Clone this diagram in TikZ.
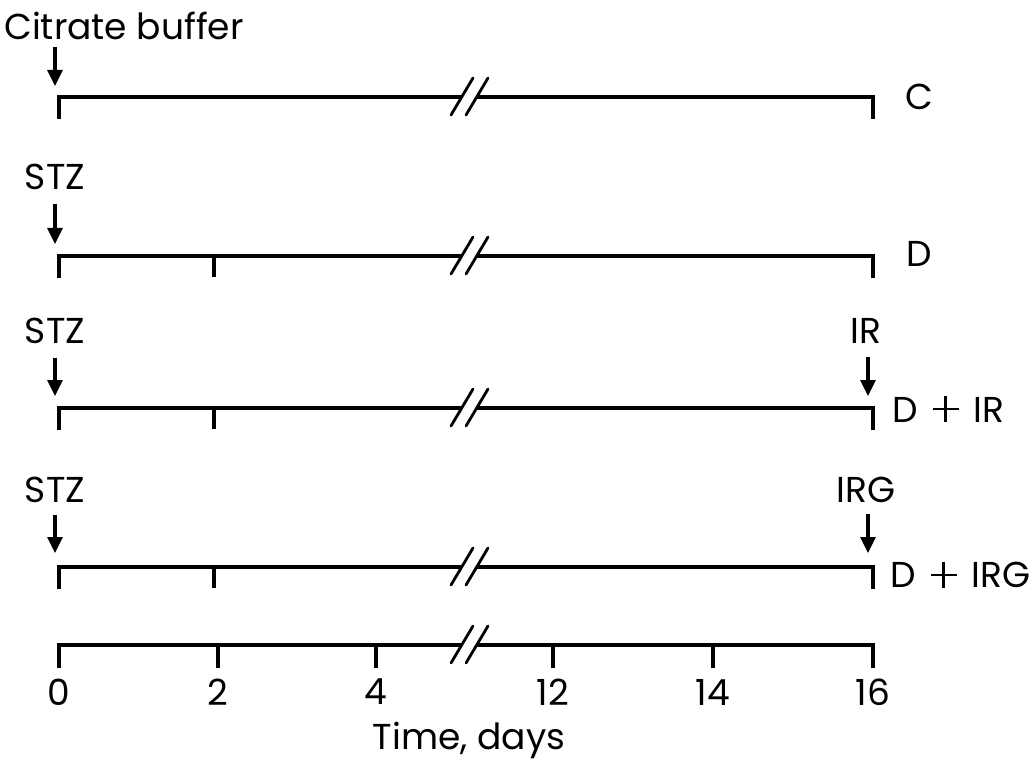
\documentclass[tikz,border=0pt]{standalone}
\usepackage{fontspec}
\setmainfont{Poppins}
\usetikzlibrary{arrows.meta,positioning}
\newcommand\bplus{\kern5pt\rlap{\raisebox{11.7pt}{\rule{26pt}{2.6pt}}}\kern11.7pt\rule{2.6pt}{26pt}\kern11.7pt\kern5pt}

\begin{document}
\begin{tikzpicture}[x=1pt,y=-1pt,line width=3.4pt,
  every node/.style={font=\fontsize{36}{40}\selectfont,inner sep=0pt},
  arr/.style={line width=3.1pt,-{Triangle[length=16pt,width=15pt]}},
  brk/.style={line width=2.8pt,line cap=round}]
  \useasboundingbox (0,0) rectangle (1033,775);
  % timelines, broken between day 4 and day 12
  \foreach \y in {97,256,408,567,645}{
    \draw (59,\y+22) -- (59,\y) -- (461,\y);
    \draw (477,\y) -- (873,\y) -- (873,\y+22);
    \draw[brk] (451,\y+18) -- (473,\y-19) (466,\y+18) -- (488,\y-19);
  }
  \foreach \y in {256,408,567}
    \draw (214,\y) -- (214,\y+21);
  % C: citrate buffer only
  \node (cb) at (124,26) {Citrate buffer};
  \coordinate (cbtip) at (55,86);
  \draw[arr] (55,47) -- (cbtip);
  \node[anchor=west] (grpc) at (904,97) {C};
  % D: STZ
  \node (stz1) at (55,177) {STZ};
  \coordinate (stz1tip) at (55,244);
  \draw[arr] ([yshift=-12pt]stz1.south) -- (stz1tip);
  \node[anchor=west] (grpd) at (905,254) {D};
  % D + IR
  \node (stz2) at (55,331) {STZ};
  \coordinate (stz2tip) at (55,396);
  \draw[arr] ([yshift=-12pt]stz2.south) -- (stz2tip);
  \node (ir) at (866,331) {IR};
  \coordinate (irtip) at (868,396);
  \draw[arr] ([yshift=-12pt]ir.south -| irtip) -- (irtip);
  \node[anchor=west] (grpdir) at (891,409) {D \bplus{} IR};
  % D + IRG
  \node (stz3) at (55,490) {STZ};
  \coordinate (stz3tip) at (55,553);
  \draw[arr] ([yshift=-10pt]stz3.south) -- (stz3tip);
  \node (irg) at (866,490) {IRG};
  \coordinate (irgtip) at (868,553);
  \draw[arr] ([yshift=-10pt]irg.south -| irgtip) -- (irgtip);
  \node[anchor=west] (grpdirg) at (889,575) {D \bplus{} IRG};
  % time axis
  \foreach \x/\d in {59/0,218/2,376/4,553/12,713/14,873/16}{
    \draw (\x,645) -- (\x,668);
    \node (day\d) at (\x,692) {\d};
  }
  \node (tlabel) at (469,740) {Time, days};
\end{tikzpicture}
\end{document}
